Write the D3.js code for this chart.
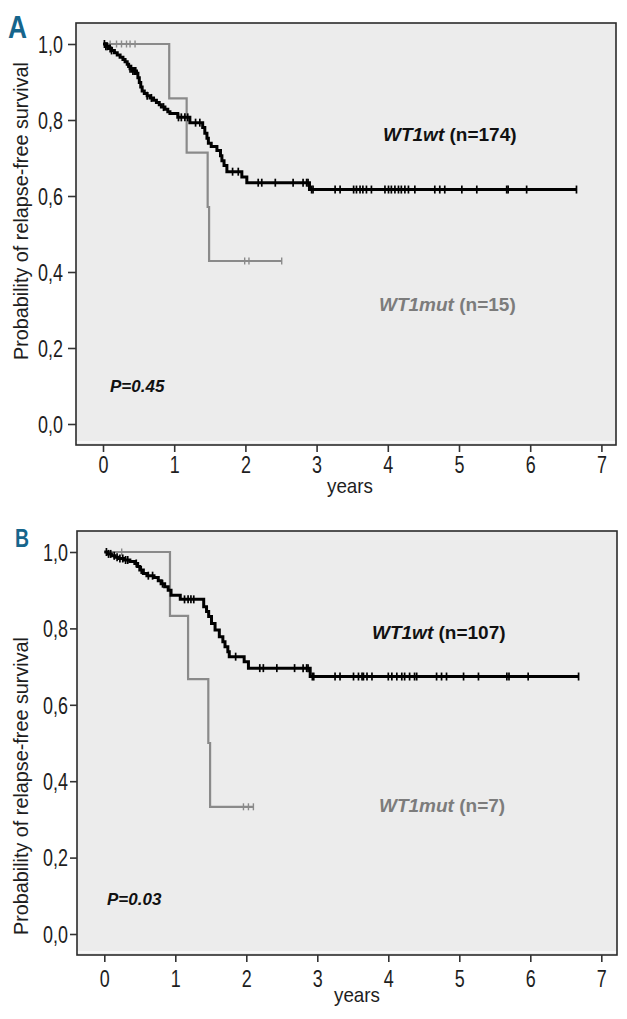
<!DOCTYPE html>
<html><head><meta charset="utf-8">
<script src="https://cdn.jsdelivr.net/npm/d3@7/dist/d3.min.js"></script>
<style>
html,body{margin:0;padding:0;background:#fff;}
svg{display:block;}
</style></head>
<body>
<svg id="c" width="627" height="1019"></svg>
<script>
// ---------- DATA ----------
const xTicks = [0,1,2,3,4,5,6,7];
const yTicks = [0,0.2,0.4,0.6,0.8,1.0];
const yTickLabels = ["0,0","0,2","0,4","0,6","0,8","1,0"];
const panelLetters = ["A","B"];
const xTitle = "years";
const yTitle = "Probability of relapse-free survival";

// Panel A: WT1wt (black)
const aWtSteps = [[0.04,0.994],[0.08,0.988],[0.12,0.983],[0.16,0.977],[0.2,0.971],[0.24,0.965],[0.28,0.959],[0.31,0.953],[0.34,0.947],[0.36,0.941],[0.38,0.935],[0.42,0.929],[0.47,0.923],[0.49,0.911],[0.51,0.899],[0.53,0.887],[0.55,0.876],[0.58,0.870],[0.62,0.864],[0.66,0.858],[0.71,0.852],[0.75,0.846],[0.79,0.840],[0.82,0.834],[0.87,0.828],[0.91,0.822],[0.94,0.817],[1.05,0.807],[1.22,0.793],[1.40,0.780],[1.43,0.765],[1.46,0.752],[1.48,0.739],[1.52,0.730],[1.60,0.720],[1.65,0.706],[1.67,0.693],[1.70,0.680],[1.74,0.664],[1.95,0.650],[2.02,0.635],[2.90,0.617]];
const aWtEnd = 6.65;
const aWtCensor = [0.02,0.04,0.06,0.10,0.12,0.38,0.40,0.42,0.44,0.46,0.62,0.68,0.85,1.06,1.10,1.15,1.19,1.30,1.36,1.82,1.90,2.18,2.23,2.42,2.67,2.81,2.86,2.88,2.93,2.95,3.26,3.33,3.52,3.56,3.61,3.65,3.70,3.77,3.96,4.01,4.05,4.10,4.15,4.19,4.24,4.29,4.38,4.66,4.73,4.80,5.04,5.25,5.67,5.69,5.95,6.65];
// Panel A: WT1mut (grey)
const aMutSteps = [[0.93,0.857],[1.175,0.714],[1.47,0.571],[1.49,0.429]];
const aMutEnd = 2.51;
const aMutCensor = [0.10,0.19,0.26,0.33,0.38,0.45,1.99,2.05,2.51];

// Panel B: WT1wt (black)
const bWtSteps = [[0.05,0.995],[0.10,0.990],[0.15,0.986],[0.20,0.983],[0.27,0.979],[0.36,0.975],[0.43,0.970],[0.47,0.962],[0.50,0.953],[0.55,0.944],[0.60,0.938],[0.70,0.933],[0.76,0.925],[0.80,0.917],[0.85,0.909],[0.90,0.900],[0.94,0.887],[1.07,0.876],[1.40,0.857],[1.44,0.844],[1.47,0.831],[1.51,0.813],[1.56,0.796],[1.62,0.778],[1.67,0.765],[1.70,0.752],[1.74,0.739],[1.76,0.726],[1.97,0.713],[2.03,0.696],[2.90,0.674]];
const bWtEnd = 6.68;
const bWtCensor = [0.03,0.06,0.09,0.14,0.18,0.22,0.26,0.30,0.33,0.45,0.52,0.62,0.68,0.82,1.13,1.18,1.22,1.26,1.85,2.19,2.24,2.43,2.68,2.80,2.85,2.87,2.93,2.95,3.25,3.32,3.51,3.58,3.63,3.65,3.70,3.77,4.00,4.05,4.12,4.19,4.23,4.30,4.37,4.40,4.68,4.75,4.82,5.06,5.27,5.67,5.70,5.97,6.68];
// Panel B: WT1mut (grey)
const bMutSteps = [[0.925,0.833],[1.18,0.667],[1.465,0.5],[1.49,0.333]];
const bMutEnd = 2.10;
const bMutCensor = [0.245,1.96,2.03,2.10];

const groupNames = ["WT1wt","WT1mut"];
const aCounts = ["(n=174)","(n=15)"];
const bCounts = ["(n=107)","(n=7)"];
const pValues = ["P=0.45","P=0.03"];

// ---------- LAYOUT ----------
const SANS = "'Liberation Sans',Arial,Helvetica,sans-serif";
const SX = 0.78; // horizontal condensing of axis text
const layouts = [
  {box:[76,23,616,445], xr:[103,601.4], yr:[424,44], yTickSize:8, yPad:5, xLabBase:473,
   letter:{x:8,y:38,size:32,w:19}, yTitle:{x:28,cy:211}, xTitle:{x:350,y:493},
   wtLab:{x:383,y:141}, mutLab:{x:379,y:311}, pLab:{x:110,y:392}},
  {box:[77,531,617,955], xr:[104.3,601.3], yr:[934,552], yTickSize:7, yPad:2, xLabBase:987,
   letter:{x:15,y:547,size:25,w:14}, yTitle:{x:28,cy:786}, xTitle:{x:357,y:1002},
   wtLab:{x:372,y:639}, mutLab:{x:379,y:812}, pLab:{x:107,y:905}}
];
const panelsData = [
  {wt:[aWtSteps,aWtEnd,aWtCensor], mut:[aMutSteps,aMutEnd,aMutCensor], counts:aCounts, p:pValues[0]},
  {wt:[bWtSteps,bWtEnd,bWtCensor], mut:[bMutSteps,bMutEnd,bMutCensor], counts:bCounts, p:pValues[1]}
];

const svg = d3.select("#c");

function survAt(steps, t){
  let s = 1;
  for (const [ti,si] of steps){ if (ti <= t + 1e-9) s = si; }
  return s;
}
function condense(sel, sx){
  sel.each(function(){
    const t = d3.select(this);
    const xv = +(t.attr("x") || 0);
    t.attr("x", xv / sx).attr("transform", `scale(${sx},1)`);
  });
}

panelsData.forEach((pd, i) => {
  const L = layouts[i];
  const [x0,y0,x1,y1] = L.box;
  const g = svg.append("g");
  const x = d3.scaleLinear().domain([0,7]).range(L.xr);
  const y = d3.scaleLinear().domain([0,1]).range(L.yr);

  g.append("rect").attr("x",x0).attr("y",y0).attr("width",x1-x0).attr("height",y1-y0)
    .attr("fill","#ececec");
  g.append("line").attr("x1",x0).attr("x2",x1).attr("y1",y1-3).attr("y2",y1-3)
    .attr("stroke","#fbfbfb").attr("stroke-width",1.5);

  // curves
  const line = d3.line().x(d=>x(d[0])).y(d=>y(d[1])).curve(d3.curveStepAfter);
  function drawCurve([steps,end,cens], color, width, tickH, tickW){
    const pts = [[0,1], ...steps, [end, steps[steps.length-1][1]]];
    g.append("path").attr("d", line(pts)).attr("fill","none")
      .attr("stroke",color).attr("stroke-width",width).attr("stroke-linejoin","miter");
    g.selectAll(null).data(cens).enter().append("line")
      .attr("x1",d=>x(d)).attr("x2",d=>x(d))
      .attr("y1",d=>y(survAt(steps,d))-tickH).attr("y2",d=>y(survAt(steps,d))+tickH)
      .attr("stroke",color).attr("stroke-width",tickW);
  }
  drawCurve(pd.mut, "#8a8a8a", 2.2, 3.5, 1.4);
  drawCurve(pd.wt, "#000", 3, 4, 1.7);

  // frame
  g.append("rect").attr("x",x0).attr("y",y0).attr("width",x1-x0).attr("height",y1-y0)
    .attr("fill","none").attr("stroke","#2b2b2b").attr("stroke-width",1.6);

  // axes
  const ya = g.append("g").attr("transform",`translate(${x0},0)`)
    .call(d3.axisLeft(y).tickValues(yTicks).tickFormat((d,k)=>yTickLabels[k])
      .tickSize(L.yTickSize).tickPadding(L.yPad));
  ya.select(".domain").remove();
  ya.selectAll("line").attr("stroke","#333").attr("stroke-width",1.6);
  ya.selectAll("text").attr("font-family",SANS).attr("font-size",23).attr("fill","#1e1e1e")
    .attr("dy","0.36em").call(condense, SX);

  const xa = g.append("g").attr("transform",`translate(0,${y1})`)
    .call(d3.axisBottom(x).tickValues(xTicks).tickFormat(d3.format("d")).tickSize(7));
  xa.select(".domain").remove();
  xa.selectAll("line").attr("stroke","#333").attr("stroke-width",1.6);
  xa.selectAll("text").attr("font-family",SANS).attr("font-size",23).attr("fill","#1e1e1e")
    .attr("dy",null).attr("y", L.xLabBase - y1).call(condense, SX);

  // titles
  g.append("text").attr("x",L.xTitle.x).attr("y",L.xTitle.y).attr("text-anchor","middle")
    .attr("font-family",SANS).attr("font-size",21).attr("fill","#1e1e1e")
    .attr("textLength",46).attr("lengthAdjust","spacingAndGlyphs").text(xTitle);
  g.append("text").attr("transform",`translate(${L.yTitle.x},${L.yTitle.cy}) rotate(-90)`)
    .attr("text-anchor","middle").attr("font-family",SANS).attr("font-size",21)
    .attr("textLength",298).attr("lengthAdjust","spacingAndGlyphs")
    .attr("fill","#1e1e1e").text(yTitle);

  // panel letter
  g.append("text").attr("x",L.letter.x).attr("y",L.letter.y).attr("font-family",SANS)
    .attr("font-weight","bold").attr("font-size",L.letter.size).attr("fill","#16658c")
    .attr("textLength",L.letter.w).attr("lengthAdjust","spacingAndGlyphs")
    .text(panelLetters[i]);

  // group labels
  const wt = g.append("text").attr("x",L.wtLab.x).attr("y",L.wtLab.y)
    .attr("font-family",SANS).attr("font-weight","bold").attr("font-size",19).attr("fill","#111");
  wt.append("tspan").attr("font-style","italic").text(groupNames[0]);
  wt.append("tspan").text(" " + pd.counts[0]);
  const mt = g.append("text").attr("x",L.mutLab.x).attr("y",L.mutLab.y)
    .attr("font-family",SANS).attr("font-weight","bold").attr("font-size",19).attr("fill","#7c7c7c");
  mt.append("tspan").attr("font-style","italic").text(groupNames[1]);
  mt.append("tspan").text(" " + pd.counts[1]);

  g.append("text").attr("x",L.pLab.x).attr("y",L.pLab.y).attr("font-family",SANS)
    .attr("font-weight","bold").attr("font-style","italic").attr("font-size",17).attr("fill","#111")
    .text(pd.p);
});
</script>
</body></html>
